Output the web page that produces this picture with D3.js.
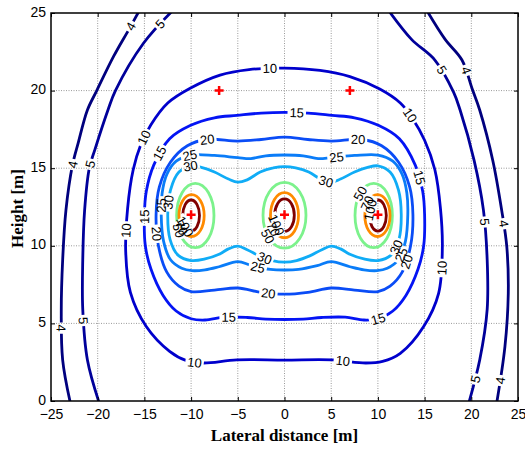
<!DOCTYPE html>
<html>
<head>
<meta charset="utf-8">
<script src="https://cdn.jsdelivr.net/npm/d3@7"></script>
<style>
  body { margin: 0; background: #fff; }
  svg { display: block; }
</style>
</head>
<body>
<svg id="chart" width="525" height="450"></svg>
<script>
// Electric field strength contours (kV/m) around a three-phase line
// Axis ticks
const xTicks = [-25, -20, -15, -10, -5, 0, 5, 10, 15, 20, 25];
const yTicks = [0, 5, 10, 15, 20, 25];

// Phase conductors and shield wires [x, y] in metres
const conductors = [[-10, 12], [0, 12], [10, 12]];
const shieldWires = [[-7, 20], [7, 20]];

// Contour levels
const levels = [4, 5, 10, 15, 20, 25, 30, 50, 70, 100];

// Open contours reaching the plot edges [x, y]
const contour4Left = [[-15.5, 25.2], [-16.7, 23.9], [-18.3, 22.2], [-20.1, 20], [-21.1, 18.75], [-22.1, 16.6], [-22.7, 15.2], [-23.4, 12.3], [-23.75, 9.1], [-23.9, 5.9], [-23.75, 2.64], [-22.9, -0.2]];
const contour4Right = [[15.2, 25.2], [17.2, 23.3], [19.0, 21.97], [20.1, 20.1], [20.9, 18.75], [22.3, 15.5], [23.25, 12.3], [23.8, 9.94], [23.96, 6.94], [23.6, 3.5], [22.7, -0.2]];
const contour5Left = [[-11.9, 25.2], [-15.1, 23.05], [-18.1, 20], [-18.9, 18.75], [-20.3, 16.2], [-20.9, 15.0], [-21.4, 12.3], [-21.6, 9.1], [-21.6, 5.9], [-21.1, 2.64], [-19.8, -0.2]];
const contour5Right = [[11.1, 25.2], [13.6, 23.3], [16.1, 21.97], [18.1, 19.9], [18.8, 18.75], [20.3, 15.5], [21.3, 12.3], [21.7, 9.1], [21.7, 5.9], [20.9, 2.64], [19.7, -0.2]];

// Closed contours around the conductor group [x, y]
const contour10 = [[0, 21.45], [-3.8, 21.35], [-6.9, 21.0], [-10.1, 20.15], [-12.5, 19.2], [-14.3, 17.8], [-15.4, 16.5], [-16.2, 14.9], [-16.8, 12.4], [-17.0, 9.6], [-16.5, 7.0], [-14.8, 4.8], [-12.3, 3.2], [-10.5, 2.6], [-8.7, 2.45], [-5.1, 2.65], [0, 2.64], [5.1, 2.65], [8.7, 2.45], [10.5, 2.55], [12.4, 3.07], [14.9, 4.8], [16.5, 6.94], [16.9, 9.9], [16.7, 12.4], [16.1, 14.9], [15.0, 16.8], [13.7, 18.2], [12.4, 19.2], [10.2, 20.1], [7, 20.9], [3.8, 21.3]];
const contour15 = [[0, 18.6], [-2.5, 18.55], [-5.1, 18.4], [-7.5, 18.25], [-10.1, 17.75], [-12.3, 16.9], [-14.0, 15.2], [-14.8, 13.5], [-15.0, 12], [-14.9, 10.0], [-14.3, 8.5], [-13.0, 6.8], [-11.6, 5.8], [-10, 5.3], [-8.5, 5.22], [-6.5, 5.4], [-4, 5.38], [-2, 5.28], [0, 5.25], [2, 5.28], [4, 5.38], [6.5, 5.4], [8.5, 5.22], [10, 5.3], [11.6, 5.8], [13.0, 6.8], [14.3, 8.5], [14.9, 10.0], [15.0, 12], [14.8, 13.5], [14.0, 15.2], [12.3, 16.9], [10.1, 17.75], [7.5, 18.25], [5.1, 18.4], [2.5, 18.55]];
const contour20 = [[0, 17.0], [-2.5, 16.85], [-5, 16.75], [-8.3, 16.85], [-10.4, 16.45], [-12.2, 15.4], [-13.4, 13.8], [-13.75, 12], [-13.5, 10.0], [-12.6, 8.3], [-11.3, 7.4], [-10, 7.05], [-7.5, 7.15], [-5, 7.28], [-2.5, 7.0], [0, 6.88], [2.5, 7.0], [5, 7.28], [7.5, 7.15], [10, 7.05], [11.3, 7.4], [12.6, 8.3], [13.5, 10.0], [13.75, 12], [13.4, 13.8], [12.2, 15.4], [10.4, 16.45], [8.3, 16.85], [5, 16.75], [2.5, 16.85]];
const contour25 = [[0, 15.85], [-2, 15.8], [-3.6, 15.62], [-5, 15.68], [-7.5, 15.82], [-10, 15.85], [-11.6, 15.45], [-12.6, 14.6], [-13.1, 13.4], [-13.2, 12], [-12.95, 10.3], [-12.2, 9.1], [-11.0, 8.55], [-9.9, 8.4], [-8.5, 8.45], [-7.0, 8.65], [-5, 8.98], [-3.5, 8.72], [-1.5, 8.48], [0, 8.44], [1.5, 8.48], [3.5, 8.72], [5, 8.98], [7.0, 8.65], [8.5, 8.45], [9.9, 8.4], [11.0, 8.55], [12.2, 9.1], [12.95, 10.3], [13.2, 12], [13.1, 13.4], [12.6, 14.6], [11.6, 15.45], [10, 15.85], [7.5, 15.82], [5, 15.68], [3.6, 15.62], [2, 15.8]];
const contour30 = [[0, 15.1], [-1.2, 15.02], [-2.6, 14.75], [-4.0, 14.25], [-5.0, 14.1], [-6.0, 14.3], [-7.5, 14.75], [-8.9, 15.05], [-10, 15.15], [-11.3, 14.75], [-12.2, 13.6], [-12.5, 12.0], [-12.25, 10.4], [-11.4, 9.4], [-10, 9.05], [-8.5, 9.15], [-7.0, 9.45], [-6.0, 9.8], [-5.0, 9.98], [-4.0, 9.75], [-2.7, 9.35], [-1.3, 9.05], [0, 8.95], [1.3, 9.05], [2.7, 9.35], [4.0, 9.75], [5.0, 9.98], [6.0, 9.8], [7.0, 9.45], [8.5, 9.15], [10, 9.05], [11.4, 9.4], [12.25, 10.4], [12.5, 12.0], [12.2, 13.6], [11.3, 14.75], [10, 15.15], [8.9, 15.05], [7.5, 14.75], [6.0, 14.3], [5.0, 14.1], [4.0, 14.25], [2.6, 14.75], [1.2, 15.02]];

// Rings around each conductor: [cx, cy, rx, ry] in metres
const ring50 = [[-9.55, 11.95, 2.0, 2.07], [0, 11.97, 2.3, 2.12], [9.55, 11.95, 2.0, 2.07]];
const ring70 = [[-9.95, 11.95, 1.35, 1.35], [0, 11.97, 1.5, 1.45], [9.95, 11.95, 1.35, 1.35]];
const ring100 = [[-10, 11.95, 0.9, 1.0], [0, 11.97, 1.05, 1.05], [10, 11.95, 0.9, 1.0]];

// Inline label anchors per level [x, y]
const labels4 = [[-16.4, 24.1], [-23.2, 15.3], [-23.6, 4.7], [19.4, 21.3], [23.7, 11.45], [22.8, 1.35]];
const labels5 = [[-13.3, 24.3], [-21.0, 15.3], [-21.4, 5.2], [16.8, 21.3], [21.65, 11.55], [20.1, 1.46]];
const labels10 = [[-1.6, 21.5], [-15.1, 17.0], [-16.9, 11.0], [-9.6, 2.6], [6.3, 2.7], [13.4, 18.4], [16.6, 8.6]];
const labels15 = [[1.3, 18.6], [-13.5, 16.0], [-15.0, 11.9], [-6.0, 5.4], [10.0, 5.3], [14.3, 14.35]];
const labels20 = [[-8.3, 16.85], [7.9, 16.85], [-13.6, 10.8], [-1.7, 7.0], [12.9, 9.0]];
const labels25 = [[-10.1, 15.85], [5.6, 15.7], [-13.2, 12.6], [-2.8, 8.7], [12.3, 9.5]];
const labels30 = [[-10.1, 15.15], [4.5, 14.2], [-12.5, 12.8], [-2.1, 9.3], [11.7, 10.0]];
const labels50 = [[-11.2, 11.0], [-1.9, 10.6], [8.0, 13.4]];
const labels70 = [[-10.9, 11.2], [-1.1, 11.1], [8.7, 12.8]];
const labels100 = [[-10.5, 11.3], [-0.7, 11.4], [9.15, 12.3]];

// ---------------------------------------------------------------
const W = 525, H = 450;
const margin = { left: 51, top: 13, right: 7, bottom: 49 };
const pw = W - margin.left - margin.right;   // 467
const ph = H - margin.top - margin.bottom;   // 388

const x = d3.scaleLinear().domain([-25, 25]).range([0, pw]);
const y = d3.scaleLinear().domain([0, 25]).range([ph, 0]);

const color = d3.scaleOrdinal()
  .domain(levels)
  .range(["#00007e", "#00009a", "#0000cc", "#0414f4", "#0a4cf6", "#0a7cf8", "#10acf6", "#7cf28c", "#ff8a00", "#800000"]);

const svg = d3.select("#chart");
svg.append("rect").attr("width", W).attr("height", H).attr("fill", "#fff");

const g = svg.append("g").attr("transform", `translate(${margin.left},${margin.top})`);
const defs = svg.append("defs");

defs.append("clipPath").attr("id", "plot-clip")
  .append("rect").attr("width", pw).attr("height", ph);

// Grid
const grid = g.append("g").attr("class", "grid");
grid.selectAll("line.gx").data(xTicks.slice(1, -1)).join("line")
  .attr("x1", d => x(d)).attr("x2", d => x(d)).attr("y1", 0).attr("y2", ph)
  .attr("stroke", "#9a9a9a").attr("stroke-width", 1).attr("stroke-dasharray", "1,1.5");
grid.selectAll("line.gy").data(yTicks.slice(1, -1)).join("line")
  .attr("y1", d => y(d)).attr("y2", d => y(d)).attr("x1", 0).attr("x2", pw)
  .attr("stroke", "#9a9a9a").attr("stroke-width", 1).attr("stroke-dasharray", "1,1.5");

// Contour geometry
const openLine = d3.line().x(d => x(d[0])).y(d => y(d[1])).curve(d3.curveCatmullRom.alpha(0.5));
const closedLine = d3.line().x(d => x(d[0])).y(d => y(d[1])).curve(d3.curveCatmullRomClosed.alpha(0.5));

function ringPath(r) {
  const cx = x(r[0]), cy = y(r[1]);
  const rx = x(r[0] + r[2]) - cx, ry = cy - y(r[1] + r[3]);
  return `M${cx - rx},${cy}A${rx},${ry} 0 1 0 ${cx + rx},${cy}A${rx},${ry} 0 1 0 ${cx - rx},${cy}Z`;
}

const shapes = [
  { level: 4, paths: [openLine(contour4Left), openLine(contour4Right)], labels: labels4 },
  { level: 5, paths: [openLine(contour5Left), openLine(contour5Right)], labels: labels5 },
  { level: 10, paths: [closedLine(contour10)], labels: labels10 },
  { level: 15, paths: [closedLine(contour15)], labels: labels15 },
  { level: 20, paths: [closedLine(contour20)], labels: labels20 },
  { level: 25, paths: [closedLine(contour25)], labels: labels25 },
  { level: 30, paths: [closedLine(contour30)], labels: labels30 },
  { level: 50, paths: ring50.map(ringPath), labels: labels50 },
  { level: 70, paths: ring70.map(ringPath), labels: labels70 },
  { level: 100, paths: ring100.map(ringPath), labels: labels100 }
];

const lineLayer = g.append("g").attr("clip-path", "url(#plot-clip)");
const textLayer = g.append("g");

shapes.forEach(s => {
  const grp = lineLayer.append("g").attr("class", "level-" + s.level);
  const nodes = s.paths.map(p => grp.append("path")
    .attr("d", p)
    .attr("fill", "none")
    .attr("stroke", color(s.level))
    .attr("stroke-width", 2.8)
    .attr("stroke-linejoin", "round")
    .node());

  const mask = defs.append("mask").attr("id", "mask-" + s.level)
    .attr("maskUnits", "userSpaceOnUse")
    .attr("x", -20).attr("y", -20).attr("width", pw + 40).attr("height", ph + 40);
  mask.append("rect").attr("x", -20).attr("y", -20).attr("width", pw + 40).attr("height", ph + 40).attr("fill", "#fff");

  s.labels.forEach(lab => {
    const tx = x(lab[0]), ty = y(lab[1]);
    // snap the label onto the nearest point of this level's lines
    let best = null;
    nodes.forEach(n => {
      const L = n.getTotalLength();
      for (let l = 0; l <= L; l += 0.75) {
        const p = n.getPointAtLength(l);
        const d = (p.x - tx) ** 2 + (p.y - ty) ** 2;
        if (!best || d < best.d) best = { d, n, l, L, p };
      }
    });
    const a = best.n.getPointAtLength(Math.max(0, best.l - 3));
    const b = best.n.getPointAtLength(Math.min(best.L, best.l + 3));
    let ang = Math.atan2(b.y - a.y, b.x - a.x) * 180 / Math.PI;
    if (ang > 90) ang -= 180;
    if (ang <= -90) ang += 180;

    const t = textLayer.append("text")
      .attr("transform", `translate(${best.p.x},${best.p.y}) rotate(${ang})`)
      .attr("text-anchor", "middle")
      .attr("dy", "0.36em")
      .attr("font-family", "'Liberation Sans', Arial, sans-serif")
      .attr("font-size", 13)
      .attr("fill", "#000")
      .text(s.level);
    const tw = t.node().getComputedTextLength();
    mask.append("rect")
      .attr("transform", `translate(${best.p.x},${best.p.y}) rotate(${ang})`)
      .attr("x", -tw / 2 - 2).attr("y", -5).attr("width", tw + 4).attr("height", 10)
      .attr("fill", "#000");
  });
  grp.attr("mask", `url(#mask-${s.level})`);
});

// Conductor and shield-wire markers
const markers = g.append("g");
conductors.concat(shieldWires).forEach(c => {
  const cx = x(c[0]), cy = y(c[1]);
  markers.append("path")
    .attr("d", `M${cx - 4.5},${cy}H${cx + 4.5}M${cx},${cy - 4.5}V${cy + 4.5}`)
    .attr("stroke", "#ff0000").attr("stroke-width", 2.5).attr("fill", "none");
});

// Axes (ticks inside, MATLAB style box)
const tickFont = "'Liberation Sans', Arial, sans-serif";
const ax = g.append("g").attr("transform", `translate(0,${ph})`)
  .call(d3.axisBottom(x).tickValues(xTicks).tickSize(-4).tickPadding(8));
const ay = g.append("g")
  .call(d3.axisLeft(y).tickValues(yTicks).tickSize(-4).tickPadding(5));
const axTop = g.append("g")
  .call(d3.axisTop(x).tickValues(xTicks).tickSize(-4).tickFormat(""));
const ayRight = g.append("g").attr("transform", `translate(${pw},0)`)
  .call(d3.axisRight(y).tickValues(yTicks).tickSize(-4).tickFormat(""));
[ax, ay, axTop, ayRight].forEach(a => {
  a.select(".domain").remove();
  a.selectAll(".tick line").attr("stroke", "#000").attr("stroke-width", 1);
  a.selectAll("text").attr("font-family", tickFont).attr("font-size", 14).attr("fill", "#000");
});
// y tick labels sit a little above their ticks
ay.selectAll(".tick text").attr("dy", "0.22em");

g.append("rect").attr("width", pw).attr("height", ph)
  .attr("fill", "none").attr("stroke", "#000").attr("stroke-width", 1.5);

// Axis titles
svg.append("text")
  .attr("x", margin.left + x(0)).attr("y", 441)
  .attr("text-anchor", "middle")
  .attr("font-family", "'Liberation Serif', 'Times New Roman', serif")
  .attr("font-weight", "bold").attr("font-size", 17)
  .text("Lateral distance [m]");
svg.append("text")
  .attr("transform", `translate(23,${margin.top + y(12.4)}) rotate(-90)`)
  .attr("text-anchor", "middle")
  .attr("font-family", "'Liberation Serif', 'Times New Roman', serif")
  .attr("font-weight", "bold").attr("font-size", 17)
  .text("Height [m]");
</script>
</body>
</html>
